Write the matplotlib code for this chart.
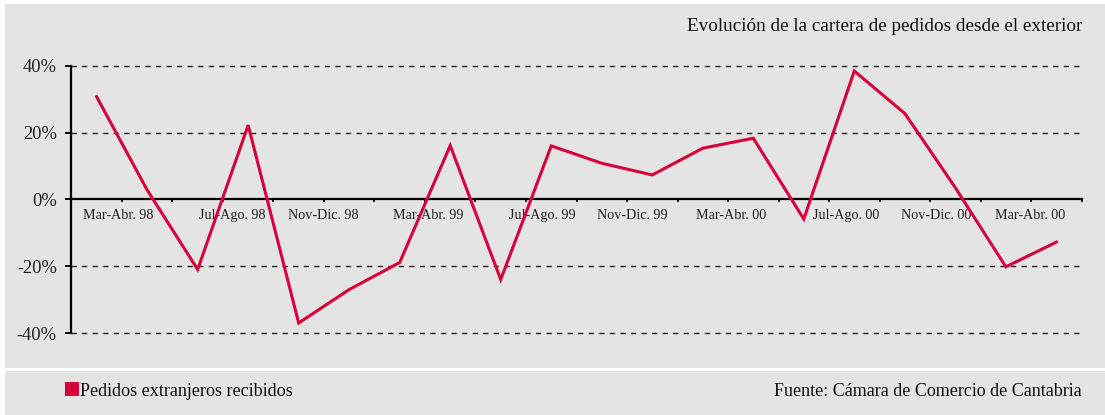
import matplotlib
matplotlib.use("Agg")
import matplotlib.pyplot as plt
from matplotlib.patches import Rectangle

# ---- data ----
periods = ["Mar-Abr 98", "May-Jun 98", "Jul-Ago 98", "Sep-Oct 98", "Nov-Dic 98",
           "Ene-Feb 99", "Mar-Abr 99", "May-Jun 99", "Jul-Ago 99", "Sep-Oct 99",
           "Nov-Dic 99", "Ene-Feb 00", "Mar-Abr 00", "May-Jun 00", "Jul-Ago 00",
           "Sep-Oct 00", "Nov-Dic 00", "Ene-Feb 01", "Mar-Abr 01", "May-Jun 01"]
pedidos = [30.7, 2.8, -21.0, 22.2, -37.0, -27.0, -18.9, 16.1, -24.0, 16.0,
           10.8, 7.3, 15.3, 18.3, -5.9, 38.4, 25.7, 3.5, -20.2, -12.8]
tick_labels = ["Mar-Abr. 98", "Jul-Ago. 98", "Nov-Dic. 98", "Mar-Abr. 99",
               "Jul-Ago. 99", "Nov-Dic. 99", "Mar-Abr. 00", "Jul-Ago. 00",
               "Nov-Dic. 00", "Mar-Abr. 00"]
y_ticks = [-40, -20, 0, 20, 40]
y_tick_labels = ["-40%", "-20%", "0%", "20%", "40%"]
title = "Evolución de la cartera de pedidos desde el exterior"
series_name = "Pedidos extranjeros recibidos"
source = "Fuente: Cámara de Comercio de Cantabria"

# ---- layout ----
label_x = [0.42, 2.68, 4.48, 6.56, 8.82, 10.60, 12.56, 14.84, 16.62, 18.48]
RED = "#d8003a"
BG = "#e4e4e4"
FONT = "Liberation Serif"

W, H = 1105, 415
fig = plt.figure(figsize=(W / 100, H / 100), dpi=100, facecolor="white")

def fx(px):
    return px / W

def fy(py):
    return 1 - py / H

# panels
fig.patches.append(Rectangle((fx(5), fy(368)), fx(W - 5), 364 / H,
                             transform=fig.transFigure, facecolor=BG,
                             edgecolor="none", zorder=-10))
fig.patches.append(Rectangle((fx(5), 0), fx(W - 5), 44 / H,
                             transform=fig.transFigure, facecolor=BG,
                             edgecolor="none", zorder=-10))

ax = fig.add_axes([fx(71.4), fy(333), fx(1081.6 - 71.4), (333 - 65.7) / H])
ax.set_facecolor("none")
ax.set_zorder(1)

x = list(range(len(pedidos)))
ax.plot(x, pedidos, color=RED, lw=2.2, solid_joinstyle="miter", zorder=3)

ax.set_xlim(-0.5, len(pedidos) - 0.5)
ax.set_ylim(-40, 40)

for v in y_ticks:
    if v != 0:
        ax.axhline(v, color="#222222", lw=1.0, dashes=(3.8, 3.8), zorder=1,
                   clip_on=False)

for s in ["top", "right"]:
    ax.spines[s].set_visible(False)
ax.spines["bottom"].set_position(("data", 0))
ax.spines["bottom"].set_linewidth(1.6)
ax.spines["left"].set_linewidth(1.6)
ax.spines["bottom"].set_zorder(2)

ax.set_yticks(y_ticks)
ax.set_yticklabels(y_tick_labels, fontfamily=FONT, fontsize=13.3, color="#222222")
ax.tick_params(axis="y", length=4.5, width=1.4, pad=6)

ax.set_xticks([i - 0.5 for i in range(len(pedidos) + 1)], minor=True)
ax.set_xticks(label_x)
ax.set_xticklabels(tick_labels, fontfamily=FONT, fontsize=10.2, color="#222222")
ax.tick_params(axis="x", which="major", length=0, pad=7)
ax.tick_params(axis="x", which="minor", length=2.5, width=1.4, direction="out")

fig.text(fx(1082), fy(31), title, ha="right", va="baseline",
         fontfamily=FONT, fontsize=13.8, color="#111111")

fig.patches.append(Rectangle((fx(65), fy(396)), 14 / W, 14 / H,
                             transform=fig.transFigure, facecolor=RED,
                             edgecolor="none", zorder=2))
fig.text(fx(80), fy(395.5), series_name, ha="left", va="baseline",
         fontfamily=FONT, fontsize=13.1, color="#111111")
fig.text(fx(1082), fy(395.5), source, ha="right", va="baseline",
         fontfamily=FONT, fontsize=13.0, color="#111111")

fig.savefig("out.png", dpi=100, facecolor="white")
